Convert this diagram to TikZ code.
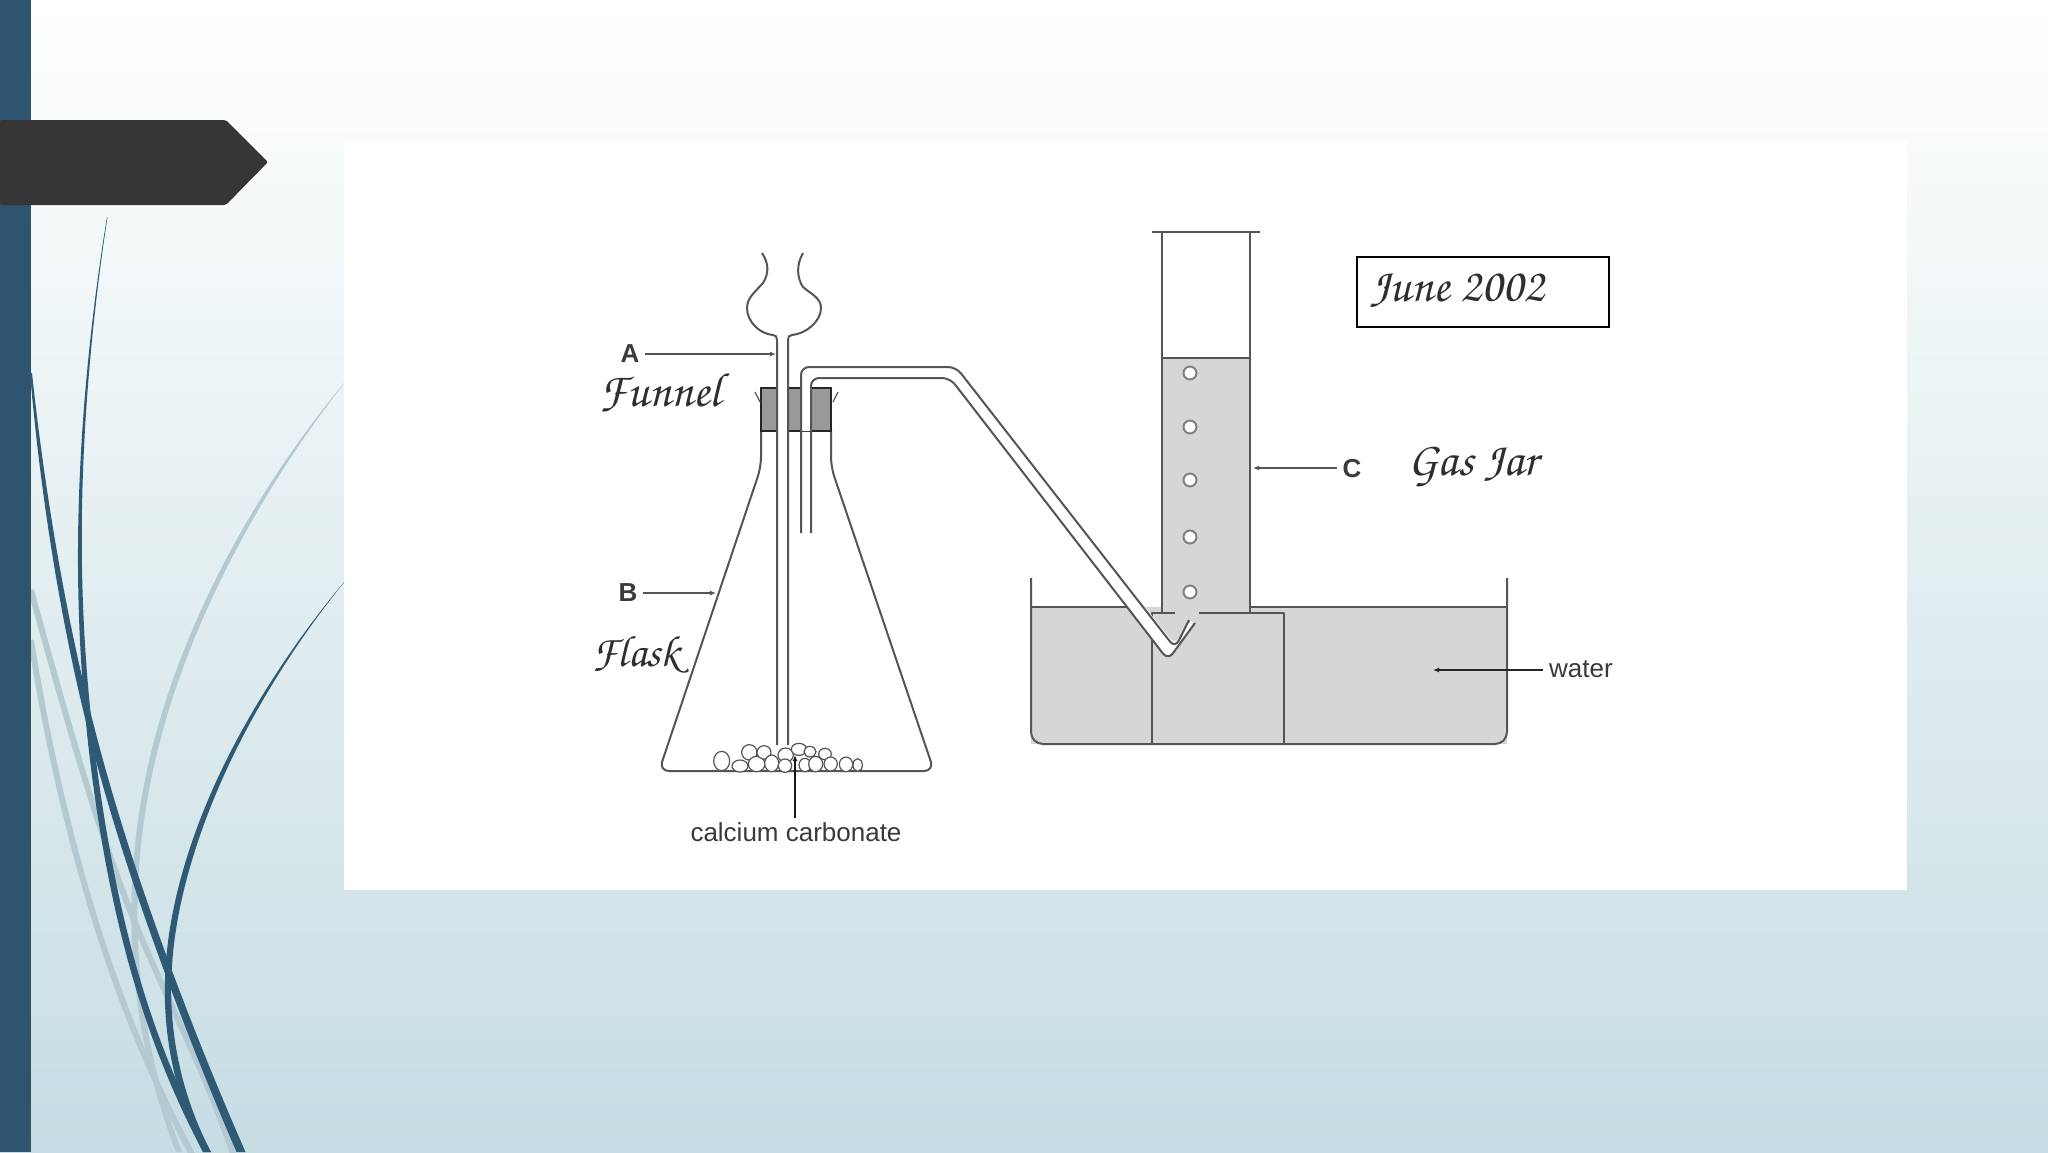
\documentclass[tikz,border=0pt]{standalone}
\usepackage[T1,TU]{fontenc}
\usepackage{fontspec}
\newfontfamily\labelfont{Liberation Sans}
\newcommand{\handfont}[1]{\fontencoding{T1}\fontfamily{pzc}\fontseries{mb}\fontshape{it}\fontsize{#1}{#1}\selectfont}
\usetikzlibrary{arrows.meta,hobby}
\definecolor{sidebarblue}{HTML}{2F5470}
\definecolor{swoosh}{HTML}{2F5A75}
\definecolor{paleswoosh}{HTML}{B4C9D0}
\definecolor{plate}{HTML}{363636}
\definecolor{waterfill}{HTML}{D6D6D6}
\definecolor{glass}{HTML}{555555}
\definecolor{inktext}{HTML}{3A3A3A}
\definecolor{bgend}{HTML}{C6DDE3}
\tikzset{
  glassline/.style={draw=glass,line width=2pt,line join=round},
  lead/.style={draw=glass,line width=1.6pt,-{Latex[length=6pt,width=5pt]},shorten <=3pt},
  sans/.style={font=\labelfont\fontsize{26}{30}\selectfont,text=inktext,inner sep=2pt},
  sansbold/.style={font=\labelfont\bfseries\fontsize{26}{30}\selectfont,text=inktext,inner sep=2pt},
  hand/.style={text=inktext!80!black,inner sep=0pt},
  stone/.style={draw=glass,fill=white,line width=1.2pt},
  bubble/.style={draw=glass!75,fill=white,line width=2pt},
}
\begin{document}
\begin{tikzpicture}[x=1pt,y=-1pt]
\useasboundingbox (0,0) rectangle (2048,1152);
\shade[top color=white,bottom color=bgend] (0,0) rectangle (2048,1152);
% pale swooshes
\fill[paleswoosh,use Hobby shortcut] (350,376) .. (231,550) .. (143,790) .. (133,960) .. (176,1152) -- (182,1152) .. (139,960) .. (149,790) .. (236,550) .. (350,376) -- cycle;
\draw[paleswoosh,line width=6pt,use Hobby shortcut] (31,590) .. (68,722) .. (136,925) .. (204,1078) .. (234,1156);
\draw[paleswoosh,line width=6pt,use Hobby shortcut] (31,640) .. (68,823) .. (136,1035) .. (193,1156);
% dark swooshes
\fill[swoosh,use Hobby shortcut] (107,217) .. (87.5,367) .. (78,567) .. (98.8,823) .. (148.5,1027) .. (203,1152) -- (211,1152) .. (155.5,1027) .. (105.2,823) .. (82,567) .. (89.5,367) .. (107.5,217) -- cycle;
\fill[swoosh,use Hobby shortcut] (30,373) .. (50.5,543) .. (88.5,732) .. (166,976) .. (236.5,1152) -- (245.5,1152) .. (174,976) .. (95.5,732) .. (55.5,543) .. (32,373) -- cycle;
\fill[swoosh,use Hobby shortcut] (350,575) .. (269.5,684) .. (187,857) .. (164.8,993) .. (203,1152) -- (211,1152) .. (171.2,993) .. (193,857) .. (272.5,684) .. (350,575) -- cycle;
% sidebar and plate
\fill[sidebarblue] (0,0) rectangle (31,1152);
\fill[plate,rounded corners=2pt] (0,120) -- (226,120) -- (268,162) -- (226,205) -- (0,205) -- cycle;
% panel
\fill[white] (344,142) rectangle (1907,890);
% water, jar
\fill[waterfill] (1031,607) -- (1507,607) -- (1507,744) -- (1031,744) -- cycle;
\fill[waterfill] (1162,358) rectangle (1250,614);
\draw[glassline,rounded corners=12pt] (1031,578) -- (1031,744) -- (1507,744) -- (1507,578);
\draw[glassline] (1031,607) -- (1141,607);
\draw[glassline] (1250,607) -- (1507,607);
\draw[glassline] (1152,744) -- (1152,613) -- (1175,613);
\draw[glassline] (1199,613) -- (1284,613) -- (1284,744);
\draw[glassline] (1162,613) -- (1162,232);
\draw[glassline] (1250,613) -- (1250,232);
\draw[glassline] (1152,232) -- (1260,232);
\draw[glassline] (1162,358) -- (1250,358);
\foreach \n/\yy in {b1/373,b2/427,b3/480,b4/537,b5/592}
  \node[bubble,circle,minimum size=13pt,inner sep=0pt] (\n) at (1190,\yy) {};
% flask
\draw[glassline,rounded corners=10pt] (761,431) -- (761,467) -- (659,771) -- (934,771) -- (831,467) -- (831,431);
% bung
\draw[draw=black!85,fill=black!40,line width=2.5pt] (761,388) rectangle (831,431);
\draw[glassline,line width=1.2pt] (755,392) -- (760,402);
\draw[glassline,line width=1.2pt] (838,392) -- (833,402);
% funnel
\fill[white] (777,335) rectangle (788,745);
\draw[glassline] (762,253) .. controls (770,265) and (768,275) .. (763,283) .. controls (755,292) and (747,298) .. (747,308) .. controls (747,322) and (760,334) .. (773,335) .. controls (776,335) and (777,337) .. (777,340) -- (777,745);
\draw[glassline] (803,253) .. controls (796,265) and (797,278) .. (803,287) .. controls (811,294) and (821,298) .. (821,308) .. controls (821,322) and (805,334) .. (792,335) .. controls (789,335) and (788,337) .. (788,340) -- (788,745);
% delivery tube
\fill[white,rounded corners=8pt] (801,431) -- (801,367) -- (956,367) -- (1175,645) -- (1189,620) -- (1195,623) -- (1168,660) -- (950,378) -- (811,378) -- (811,431) -- cycle;
\fill[white] (801,385) rectangle (811,431);
\draw[glassline,rounded corners=8pt] (801,533) -- (801,367) -- (956,367) -- (1175,648) -- (1189,620);
\draw[glassline,rounded corners=8pt] (811,533) -- (811,378) -- (950,378) -- (1168,660) -- (1195,623);
% stones
\foreach \n/\sx/\sy/\rx/\ry in {s1/485/603/24/29,s2/540/618/24/18,s3/568/577/23/23,s4/590/612/25/23,s5/612/577/21/20,s6/635/610/21/25,s7/677/585/23/21,s8/675/617/20/20,s9/717/568/23/18,s10/750/575/18/16,s11/735/615/18/20,s12/767/612/21/23,s13/795/582/19/17,s14/812/612/20/21,s15/858/613/20/22,s16/893/615/14/19}
  \draw[stone] ({560+\sx/3},{560+\sy/3}) ellipse [x radius=\rx/3,y radius=\ry/3];
% labels and leaders
\coordinate (Atip) at (776,354);
\coordinate (Btip) at (716,593);
\coordinate (Ctip) at (1253,468);
\coordinate (Wtip) at (1433,670);
\coordinate (CaTip) at (795,755);
\coordinate (CaTail) at (795,818);
\node[sansbold] (A) at (630,354) {A};
\node[sansbold] (B) at (628,593) {B};
\node[sansbold] (C) at (1352,469) {C};
\node[sans,anchor=west,inner sep=3pt] (W) at (1546,669) {water};
\node[sans] (Ca) at (796,832) {calcium carbonate};
\draw[lead] (A.east |- Atip) -- (Atip);
\draw[lead] (B.east |- Btip) -- (Btip);
\draw[lead] (C.west |- Ctip) -- (Ctip);
\draw[lead,draw=black!85] (W.west |- Wtip) -- (Wtip);
\draw[lead,draw=black!90,shorten <=0pt] (CaTail) -- (CaTip);
\node[hand,anchor=west] (F1) at (599,393) {\handfont{48}Funnel};
\node[hand,anchor=west] (F2) at (592,655) {\handfont{44}Flask};
\node[hand,anchor=west] (G) at (1408,467) {\handfont{48}Gas Jar};
\node[draw=black,line width=2pt,minimum width=252pt,minimum height=70pt,anchor=north west,inner sep=0pt] (D) at (1356,256) {};
\node[hand,anchor=west] (J) at (1370,290) {\handfont{48}June 2002};
\end{tikzpicture}
\end{document}
